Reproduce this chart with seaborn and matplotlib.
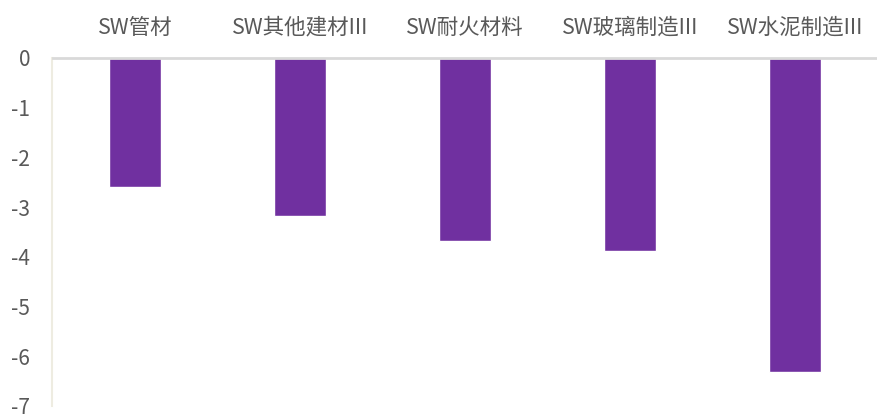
import numpy as np
import pandas as pd
import seaborn as sns
import matplotlib.pyplot as plt

categories = ['SW管材', 'SW其他建材III', 'SW耐火材料', 'SW玻璃制造III', 'SW水泥制造III']
values = [-2.6, -3.17, -3.69, -3.89, -6.31]
yticks = [0, -1, -2, -3, -4, -5, -6, -7]

df = pd.DataFrame({'cat': categories, 'val': values})

sns.set_style('white')
plt.rcParams['font.family'] = ['Noto Sans CJK SC', 'DejaVu Sans']

fig = plt.figure(figsize=(8.78, 4.16), dpi=100)
ax = fig.add_axes([52.5 / 878, 1 - 406 / 416, 825 / 878, 348 / 416])

sns.barplot(data=df, x='cat', y='val', color='#7030A0', saturation=1, width=0.315, ax=ax)

ax.set_ylim(-7, 0)
ax.set_xlim(-0.5, 4.5)
ax.set_yticks(yticks)
ax.set_yticklabels([str(t) for t in yticks], color='#595959', fontsize=15)
ax.xaxis.tick_top()
ax.set_xticklabels(categories, color='#595959', fontsize=15.5)
ax.tick_params(axis='x', length=0, pad=14)
ax.tick_params(axis='y', direction='in', length=7, width=1.5, color='#eeece1', pad=16)
ax.set_xlabel('')
ax.set_ylabel('')

for s in ['bottom', 'right']:
    ax.spines[s].set_visible(False)
ax.spines['top'].set_color('#d9d9d9')
ax.spines['top'].set_linewidth(2)
ax.spines['left'].set_color('#eeece1')
ax.spines['left'].set_linewidth(1.5)

fig.savefig('out.png', dpi=100)
